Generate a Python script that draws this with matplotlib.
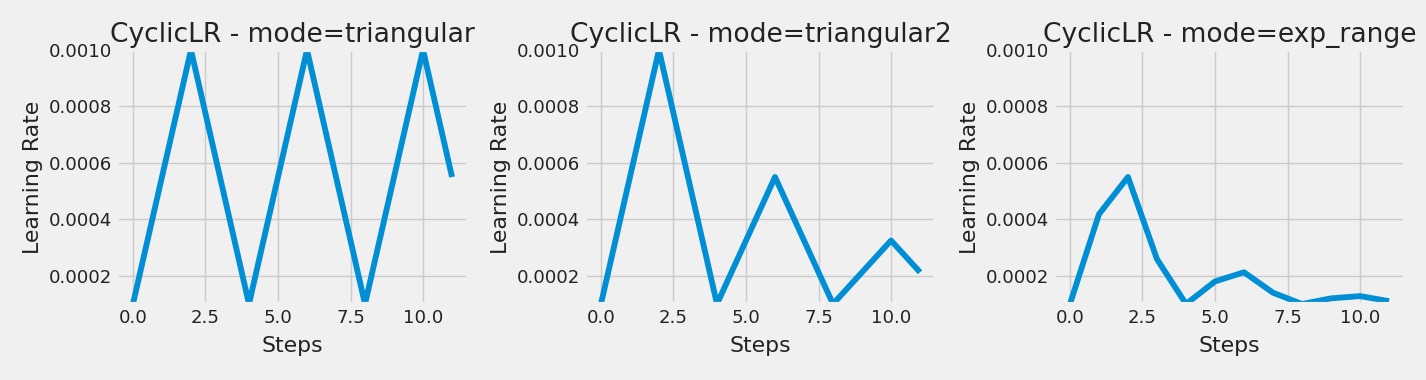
import matplotlib
matplotlib.use("Agg")
import matplotlib.pyplot as plt

plt.style.use("fivethirtyeight")
plt.rcParams["axes.titlesize"] = 19.1
plt.rcParams["axes.labelsize"] = 15.8
plt.rcParams["xtick.labelsize"] = 13.1
plt.rcParams["ytick.labelsize"] = 13.1
plt.rcParams["text.color"] = "#222222"
plt.rcParams["xtick.color"] = "#222222"
plt.rcParams["ytick.color"] = "#222222"
plt.rcParams["axes.labelcolor"] = "#222222"

steps = list(range(12))
lr_triangular = [0.0001, 0.00055, 0.001, 0.00055, 0.0001, 0.00055, 0.001, 0.00055, 0.0001, 0.00055, 0.001, 0.00055]
lr_triangular2 = [0.0001, 0.00055, 0.001, 0.00055, 0.0001, 0.000325, 0.00055, 0.000325, 0.0001, 0.0002125, 0.000325, 0.0002125]
lr_exp_range = [0.0001, 0.000418, 0.00055, 0.000259, 0.0001, 0.00018, 0.0002125, 0.00014, 0.0001, 0.00012, 0.000128, 0.00011]

titles = ["CyclicLR - mode=triangular", "CyclicLR - mode=triangular2", "CyclicLR - mode=exp_range"]
series = [lr_triangular, lr_triangular2, lr_exp_range]

fig = plt.figure(figsize=(14.26, 3.8), dpi=100)
lefts = [117 / 1426, 585 / 1426, 1054 / 1426]
w = 351 / 1426
bottom = 76 / 380
h = 254 / 380
for left, title, vals in zip(lefts, titles, series):
    ax = fig.add_axes([left, bottom, w, h])
    ax.plot(steps, vals, linewidth=4.2)
    ax.set_title(title)
    ax.set_xlabel("Steps", labelpad=6.5)
    ax.set_ylabel("Learning Rate")
    ax.set_ylim(0.0001, 0.001)

fig.savefig("out.png", dpi=100)
